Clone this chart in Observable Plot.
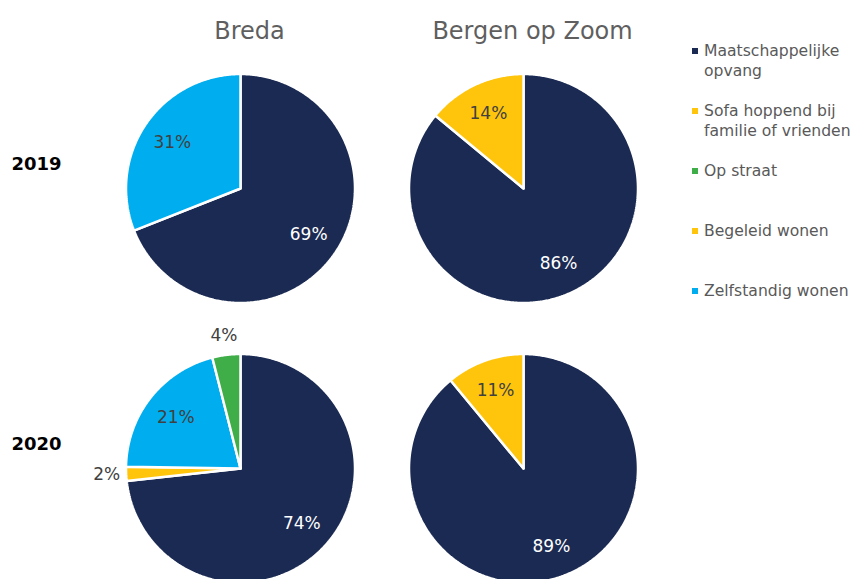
<!DOCTYPE html>
<html><head><meta charset="utf-8">
<script src="https://cdn.jsdelivr.net/npm/d3@7"></script>
<script src="https://cdn.jsdelivr.net/npm/@observablehq/plot@0.6"></script>
<style>
html,body{margin:0;padding:0;background:#fff}
body{width:854px;height:579px;overflow:hidden;position:relative;font-family:"DejaVu Sans",Verdana,sans-serif}
#chart{position:absolute;left:0;top:0}
#legend{position:absolute;left:692px;top:41px}
.item{display:flex;align-items:flex-start;height:60px;font-size:15.6px;color:#595959;line-height:20px;white-space:pre-line}
.sw{width:6px;height:6px;margin:7px 6px 0 0;flex:none}
</style></head><body>
<div id="chart"></div><div id="legend"></div>
<script>
// Legend categories and colours
const categories = ["Maatschappelijke opvang","Sofa hoppend bij familie of vrienden","Op straat","Begeleid wonen","Zelfstandig wonen"];
const legendLabels = ["Maatschappelijke\nopvang","Sofa hoppend bij\nfamilie of vrienden","Op straat","Begeleid wonen","Zelfstandig wonen"];
const colors = ["#1b2a52","#ffc50d","#3fae49","#ffc50d","#00aeef"];

// Facets
const cities = ["Breda","Bergen op Zoom"];
const years = ["2019","2020"];

// Slices (clockwise from 12 o'clock), values in %
const breda2019Cats = ["Maatschappelijke opvang","Zelfstandig wonen"];
const breda2019Values = [69,31];
const bergen2019Cats = ["Maatschappelijke opvang","Sofa hoppend bij familie of vrienden"];
const bergen2019Values = [86,14];
const breda2020Cats = ["Maatschappelijke opvang","Sofa hoppend bij familie of vrienden","Zelfstandig wonen","Op straat"];
const breda2020Values = [74,2,21,4];
const bergen2020Cats = ["Maatschappelijke opvang","Sofa hoppend bij familie of vrienden"];
const bergen2020Values = [89,11];

const pies = [
  {city:"Breda", year:"2019", cats:breda2019Cats, values:breda2019Values},
  {city:"Bergen op Zoom", year:"2019", cats:bergen2019Cats, values:bergen2019Values},
  {city:"Breda", year:"2020", cats:breda2020Cats, values:breda2020Values},
  {city:"Bergen op Zoom", year:"2020", cats:bergen2020Cats, values:bergen2020Values}
];

const slices = [];
const labels = [];
for (const p of pies) {
  const arcs = d3.pie().sort(null).value(d => d)(p.values);
  arcs.forEach((a, i) => {
    const key = p.city + p.year + i;
    const cat = p.cats[i];
    const pts = [[0,0]];
    const n = Math.max(2, Math.ceil((a.endAngle - a.startAngle) / 0.01));
    for (let k = 0; k <= n; k++) {
      const t = a.startAngle + (a.endAngle - a.startAngle) * k / n;
      pts.push([Math.sin(t), Math.cos(t)]);
    }
    pts.push([0,0]);
    for (const [x,y] of pts) slices.push({city:p.city, year:p.year, key, cat, x, y});
    const mid = (a.startAngle + a.endAngle) / 2;
    const inside = p.values[i] >= 5;
    const r = inside ? 0.72 : 1.17;
    labels.push({city:p.city, year:p.year, x:r*Math.sin(mid), y:r*Math.cos(mid),
      text:p.values[i] + "%", light: inside && cat === "Maatschappelijke opvang"});
  });
}

const chart = Plot.plot({
  width: 690, height: 579,
  marginLeft: 110, marginRight: 37, marginTop: 78, marginBottom: 1,
  x: {domain: [-1.1354, 1.1354], axis: null},
  y: {domain: [-0.9607, 0.9607], axis: null},
  fx: {domain: cities, paddingInner: 0.0813, paddingOuter: 0},
  fy: {domain: years, paddingInner: 0.2143, paddingOuter: 0},
  color: {domain: categories, range: colors},
  style: {fontFamily: "'DejaVu Sans', Verdana, sans-serif", background: "white"},
  marks: [
    Plot.axisFx({anchor: "top", tickSize: 0, tickPadding: 40, fontSize: 24, label: null, fill: "#5f5f5f", dx: 9}),
    Plot.axisFy({anchor: "left", tickSize: 0, tickPadding: 49, fontSize: 18, fontWeight: "bold", label: null, fill: "#000", dy: -24}),
    Plot.line(slices, {x: "x", y: "y", z: "key", fx: "city", fy: "year", fill: "cat", stroke: "white", strokeWidth: 2.5, curve: "linear", strokeLinejoin: "miter"}),
    Plot.text(labels.filter(d => d.light), {x: "x", y: "y", fx: "city", fy: "year", text: "text", fill: "white", fontSize: 17}),
    Plot.text(labels.filter(d => !d.light), {x: "x", y: "y", fx: "city", fy: "year", text: "text", fill: "#404040", fontSize: 17})
  ]
});
document.getElementById("chart").appendChild(chart);

const legend = document.getElementById("legend");
categories.forEach((c, i) => {
  const item = document.createElement("div");
  item.className = "item";
  const sw = document.createElement("div");
  sw.className = "sw";
  sw.style.background = colors[i];
  const tx = document.createElement("div");
  tx.textContent = legendLabels[i];
  item.appendChild(sw); item.appendChild(tx);
  legend.appendChild(item);
});
</script>
</body></html>
